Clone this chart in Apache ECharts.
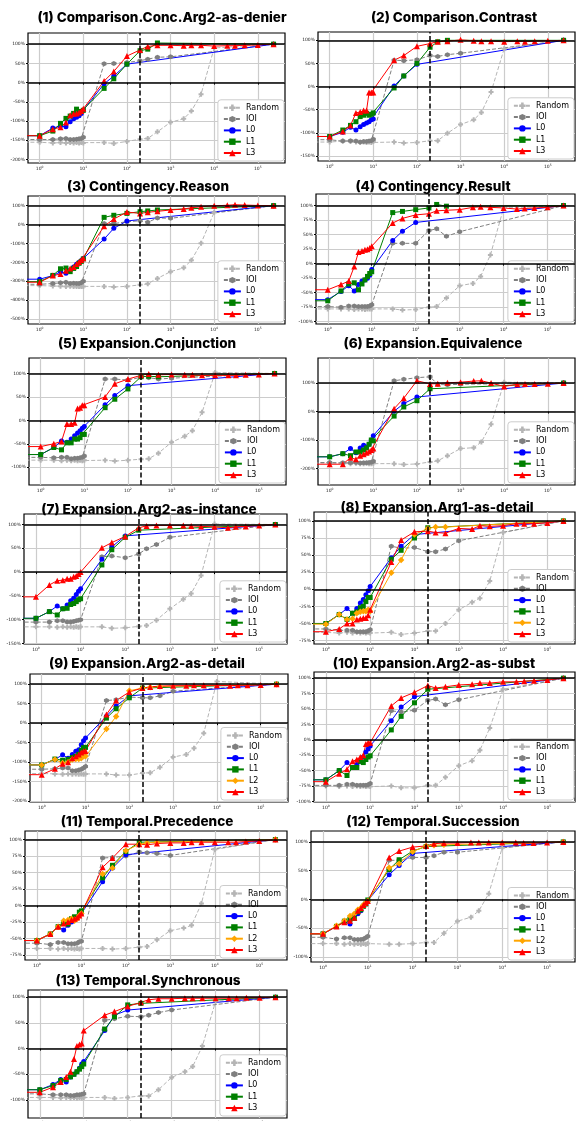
<!DOCTYPE html>
<html><head><meta charset="utf-8">
<script src="https://cdn.jsdelivr.net/npm/echarts@6/dist/echarts.min.js"></script>
<style>html,body{margin:0;padding:0;background:#fff}#c{width:576px;height:1121px}</style>
</head><body><div id="c"></div>
<script>
const _ = null;
// x positions (steps). The first entry stands for step 0, which matplotlib's log axis pushes to the left edge.
const X_VALUES = [0.01, 1,2,3,4,5,6,7,8,9,10, 30,50,100, 200,300,500, 1000,2000,3000,5000, 10000,20000,30000,50000,100000, 230000];
const X_TICKS = [1, 10, 100, 1000, 10000, 100000];
const TITLES = ['(1) Comparison.Conc.Arg2-as-denier','(2) Comparison.Contrast','(3) Contingency.Reason','(4) Contingency.Result','(5) Expansion.Conjunction','(6) Expansion.Equivalence','(7) Expansion.Arg2-as-instance','(8) Expansion.Arg1-as-detail','(9) Expansion.Arg2-as-detail','(10) Expansion.Arg2-as-subst','(11) Temporal.Precedence','(12) Temporal.Succession','(13) Temporal.Synchronous'];
const Y_TICKS = [
 [-200,-150,-100,-50,0,50,100],[-150,-100,-50,0,50,100],[-500,-400,-300,-200,-100,0,100],[-100,-75,-50,-25,0,25,50,75,100],
 [-100,-50,0,50,100],[-200,-100,0,100],[-150,-100,-50,0,50,100],[-75,-50,-25,0,25,50,75,100],
 [-200,-150,-100,-50,0,50,100],[-100,-75,-50,-25,0,25,50,75,100],[-75,-50,-25,0,25,50,75,100],[-100,-50,0,50,100],[-100,-50,0,50,100]];
const Y_MIN = [-209,-161,-526,-104,-138,-258,-151,-80,-202,-101,-82.5,-109,-135];
const Y_MAX = [129,118,151,120,133,188,122,113,126,110,113,119,114];

const P1_RANDOM = [-155, -155,-157,-156,-157,-156,-157,-156,-157,-156,-157, -156,-158,-153, -147,-145,-128, -103,-94,-74,-30, 90,_,_,_,_, 100];
const P1_IOI    = [-148, -148,-148,-146,-145,-148,-148,-147,-146,-145,-142, 49,50,52, 57,61,66, 67,_,_,_,_,_,_,_,_, 100];
const P1_L0     = [-138, -138,-118,-113,-115,-102,-94,-90,-86,-80,-72, -3,17,48, _,_,_,_,_,_,_,_,_,_,_,_, 100];
const P1_L1     = [-138, -138,-126,-106,-93,-87,-80,-69,-78,-75,-72, -15,10,48, 83,87,103, _,_,_,_,_,_,_,_,_, 100];
const P1_L3     = [-138, -138,-121,-116,-104,-85,-81,-80,-78,-74,-68, 4,29,69, 85,94,97, 97,96,97,97, 95,96,96,97,98, 100];

const P2_RANDOM = [-120, -120,-118,-119,-120,-121,-120,-121,-120,-121,-119, -120,-122,-121, -117,-117,-101, -82,-72,-56,-12, 82,_,_,_,_, 100];
const P2_IOI    = [-115, -115,-118,-117,-118,-120,-119,-119,-118,-117,-114, 57,56,58, 67,65,69, 72,_,_,_,_,_,_,_,_, 100];
const P2_L0     = [-108, -108,-99,-88,-94,-87,-82,-79,-76,-72,-70, 1,23,48, _,_,_,_,_,_,_,_,_,_,_,_, 100];
const P2_L1     = [-108, -108,-94,-84,-76,-65,-62,-58,-62,-60,-57, -3,23,50, 85,97,100, _,_,_,_,_,_,_,_,_, 100];
const P2_L3     = [-108, -108,-97,-84,-57,-55,-52,-52,-13,-13,-13, 57,67,87, 93,97,98, 101,99,98,98, 97,98,97,98,99, 100];

const P3_RANDOM = [-323, -323,-325,-326,-327,-326,-328,-327,-328,-327,-328, -327,-330,-327, -319,-313,-285, -249,-229,-189,-99, 65,_,_,_,_, 100];
const P3_IOI    = [-316, -316,-312,-308,-305,-312,-310,-312,-312,-308,-300, 6,5,15, 20,12,35, 33,_,_,_,_,_,_,_,_, 100];
const P3_L0     = [-289, -289,-270,-250,-258,-240,-225,-210,-200,-190,-179, -77,-20,19, _,_,_,_,_,_,_,_,_,_,_,_, 100];
const P3_L1     = [-302, -302,-269,-234,-230,-249,-232,-222,-205,-195,-182, 38,49,59, 68,72,77, _,_,_,_,_,_,_,_,_, 100];
const P3_L3     = [-305, -305,-270,-262,-245,-233,-225,-208,-198,-188,-178, -9,29,66, 59,65,70, 77,82,89,94, 99,102,105,103,101, 100];

const P4_RANDOM = [-78, -78,-78,-78,-79,-78,-78,-79,-78,-78,-78, -78,-80,-79, -75,-74,-59, -38,-34,-22,15, 96,_,_,_,_, 100];
const P4_IOI    = [-74, -74,-75,-73,-73,-74,-74,-74,-74,-73,-71, 35,35,35, 57,60,47, 55,_,_,_,_,_,_,_,_, 100];
const P4_L0     = [-62, -62,-48,-38,-47,-36,-30,-28,-25,-20,-10, 40,56,71, _,_,_,_,_,_,_,_,_,_,_,_, 100];
const P4_L1     = [-64, -64,-47,-35,-33,-45,-35,-28,-22,-17,-14, 88,90,93, 96,102,99, _,_,_,_,_,_,_,_,_, 100];
const P4_L3     = [-45, -45,-36,-30,-5,20,22,24,25,27,30, 70,78,84, 86,91,92, 93,97,98,97, 96,94,95,96,97, 100];

const P5_RANDOM = [-85, -85,-85,-86,-85,-86,-85,-86,-85,-86,-85, -85,-87,-85, -83,-82,-70, -47,-34,-22,17, 102,_,_,_,_, 100];
const P5_IOI    = [-79, -79,-80,-79,-79,-82,-81,-81,-80,-79,-76, 88,88,86, 92,91,88, 90,_,_,_,_,_,_,_,_, 100];
const P5_L0     = [-73, -73,-58,-44,-47,-40,-33,-27,-22,-17,-13, 33,53,74, _,_,_,_,_,_,_,_,_,_,_,_, 100];
const P5_L1     = [-73, -73,-58,-63,-48,-48,-40,-40,-37,-30,-30, 27,45,67, 93,94,93, _,_,_,_,_,_,_,_,_, 100];
const P5_L3     = [-56, -56,-50,-45,-8,-8,-5,25,27,32,32, 50,78,88, 96,99,97, 98,97,97,96, 96,96,96,97,98, 100];

const P6_RANDOM = [-181, -181,-183,-183,-182,-183,-183,-182,-183,-183,-182, -183,-186,-184, -177,-173,-155, -130,-127,-107,-45, 103,_,_,_,_, 100];
const P6_IOI    = [-179, -179,-180,-180,-179,-181,-180,-180,-179,-178,-175, 108,113,119, 122,95,94, 96,_,_,_,_,_,_,_,_, 100];
const P6_L0     = [-159, -159,-148,-130,-145,-128,-118,-125,-115,-100,-85, 1,28,51, _,_,_,_,_,_,_,_,_,_,_,_, 100];
const P6_L1     = [-159, -159,-148,-155,-142,-142,-135,-128,-115,-100,-103, -16,16,38, 80,_,_,_,_,_,_,_,_,_,_,_, 100];
const P6_L3     = [-185, -185,-185,-162,-168,-155,-150,-145,-140,-135,-130, 10,47,108, 97,98,101, 103,107,108,100, 88,96,97,97,98, 100];

const P7_RANDOM = [-115, -115,-115,-116,-115,-116,-115,-116,-115,-116,-115, -115,-118,-117, -114,-112,-101, -77,-57,-45,-7, 101,_,_,_,_, 100];
const P7_IOI    = [-105, -105,-105,-102,-102,-105,-105,-104,-102,-101,-100, 32,34,30, 38,49,58, 73,_,_,_,_,_,_,_,_, 100];
const P7_L0     = [-97, -97,-83,-71,-77,-69,-60,-55,-47,-40,-35, 27,53,76, _,_,_,_,_,_,_,_,_,_,_,_, 100];
const P7_L1     = [-97, -97,-83,-90,-77,-76,-68,-66,-62,-58,-56, 15,47,73, 88,_,_,_,_,_,_,_,_,_,_,_, 100];
const P7_L3     = [-52, -52,-27,-18,-17,-14,-14,-10,-8,-4,0, 51,62,75, 93,97,98, 98,98,97,96, 95,93,95,96,98, 100];

const P8_RANDOM = [-63, -63,-64,-63,-64,-63,-64,-63,-64,-63,-64, -63,-66,-64, -61,-61,-50, -30,-19,-13,12, 83,_,_,_,_, 100];
const P8_IOI    = [-58, -58,-60,-60,-60,-62,-62,-62,-62,-61,-59, 63,60,61, 55,55,59, 71,_,_,_,_,_,_,_,_, 100];
const P8_L0     = [-50, -50,-37,-28,-35,-28,-20,-15,-8,-2,4, 46,63,80, _,_,_,_,_,_,_,_,_,_,_,_, 100];
const P8_L1     = [-50, -50,-37,-44,-35,-33,-27,-25,-18,-12,-12, 44,57,75, 90,_,_,_,_,_,_,_,_,_,_,_, 100];
const P8_L2     = [-51, -51,-37,-44,-43,-35,-33,-32,-32,-30,-32, 24,43,80, 89,91,91, _,_,_,_,_,_,_,_,_, 100];
const P8_L3     = [-62, -62,-58,-50,-50,-44,-43,-42,-42,-38,-30, 40,72,84, 85,83,82, 89,88,93,92, 93,96,96,96,97, 100];

const P9_RANDOM = [-129, -129,-130,-131,-130,-131,-130,-131,-130,-131,-130, -130,-133,-133, -128,-127,-113, -87,-80,-64,-26, 107,_,_,_,_, 100];
const P9_IOI    = [-118, -118,-117,-115,-115,-122,-122,-120,-118,-115,-111, 58,60,67, 65,65,70, 82,_,_,_,_,_,_,_,_, 100];
const P9_L0     = [-107, -107,-93,-81,-90,-80,-72,-68,-55,-45,-38, 18,44,70, _,_,_,_,_,_,_,_,_,_,_,_, 100];
const P9_L1     = [-107, -107,-92,-95,-93,-88,-85,-80,-70,-63,-62, 13,37,65, 90,_,_,_,_,_,_,_,_,_,_,_, 100];
const P9_L2     = [-107, -107,-93,-102,-100,-93,-92,-92,-90,-85,-85, -15,17,83, 90,92,94, _,_,_,_,_,_,_,_,_, 100];
const P9_L3     = [-132, -132,-117,-104,-100,-90,-85,-80,-75,-72,-71, 22,58,80, 90,93,95, 96,96,97,97, 97,96,97,97,98, 100];

const P10_RANDOM = [-75, -75,-76,-75,-76,-75,-76,-75,-76,-75,-76, -75,-78,-78, -74,-74,-61, -42,-34,-17,19, 82,_,_,_,_, 100];
const P10_IOI    = [-74, -74,-74,-72,-72,-74,-74,-74,-74,-73,-71, 47,45,48, 64,66,57, 65,_,_,_,_,_,_,_,_, 100];
const P10_L0     = [-65, -65,-50,-37,-45,-40,-35,-28,-20,-15,-10, 31,53,70, _,_,_,_,_,_,_,_,_,_,_,_, 100];
const P10_L1     = [-65, -65,-50,-58,-45,-45,-35,-37,-32,-28,-26, 16,38,60, 82,_,_,_,_,_,_,_,_,_,_,_, 100];
const P10_L3     = [-68, -68,-55,-48,-35,-32,-28,-25,-7,-5,-5, 55,68,77, 88,84,86, 89,90,92,92, 94,94,95,96,97, 100];

const P11_RANDOM = [-65, -65,-65,-66,-65,-66,-65,-66,-65,-66,-65, -65,-66,-65, -63,-62,-52, -38,-34,-30,3, 85,_,_,_,_, 100];
const P11_IOI    = [-57, -57,-59,-56,-56,-58,-58,-58,-57,-55,-54, 72,73,75, 81,80,79, 76,_,_,_,_,_,_,_,_, 100];
const P11_L0     = [-53, -53,-43,-32,-37,-30,-25,-20,-18,-14,-12, 36,57,77, _,_,_,_,_,_,_,_,_,_,_,_, 100];
const P11_L1     = [-53, -53,-43,-32,-27,-28,-20,-17,-18,-10,-8, 42,61,82, 96,_,_,_,_,_,_,_,_,_,_,_, 100];
const P11_L2     = [-53, -53,-43,-32,-23,-22,-20,-23,-20,-15,-12, 48,57,83, 93,95,96, _,_,_,_,_,_,_,_,_, 100];
const P11_L3     = [-53, -53,-43,-32,-27,-25,-22,-20,-18,-15,-12, 58,72,93, 93,92,94, 95,95,96,96, 96,96,96,97,98, 100];

const P12_RANDOM = [-77, -77,-77,-78,-77,-78,-77,-78,-77,-78,-77, -78,-78,-77, -75,-75,-59, -38,-31,-20,10, 90,_,_,_,_, 100];
const P12_IOI    = [-66, -66,-69,-67,-67,-70,-70,-70,-69,-67,-64, 68,68,73, 73,76,82, 82,_,_,_,_,_,_,_,_, 100];
const P12_L0     = [-60, -60,-47,-38,-43,-28,-25,-20,-12,-8,-2, 43,59,80, _,_,_,_,_,_,_,_,_,_,_,_, 100];
const P12_L1     = [-60, -60,-47,-38,-35,-33,-22,-18,-12,-8,-1, 52,69,84, 92,_,_,_,_,_,_,_,_,_,_,_, 100];
const P12_L2     = [-60, -60,-46,-37,-29,-25,-18,-15,-10,-6,-3, 55,62,83, 93,94,95, _,_,_,_,_,_,_,_,_, 100];
const P12_L3     = [-60, -60,-47,-40,-37,-32,-20,-15,-10,-6,-3, 73,84,91, 93,97,98, 98,99,99,99, 99,99,98,98,99, 100];

const P13_RANDOM = [-95, -95,-95,-96,-95,-96,-95,-96,-95,-96,-95, -95,-97,-95, -92,-92,-80, -56,-45,-35,5, 92,_,_,_,_, 100];
const P13_IOI    = [-88, -88,-90,-90,-90,-91,-91,-90,-90,-89,-88, 55,58,63, 62,65,70, 75,_,_,_,_,_,_,_,_, 100];
const P13_L0     = [-80, -80,-70,-60,-65,-55,-50,-45,-38,-30,-25, 35,65,75, _,_,_,_,_,_,_,_,_,_,_,_, 100];
const P13_L1     = [-80, -80,-72,-62,-60,-55,-50,-45,-40,-35,-30, 38,62,85, 88,_,_,_,_,_,_,_,_,_,_,_, 100];
const P13_L3     = [-85, -85,-75,-65,-55,-45,-20,5,8,10,35, 65,72,82, 90,95,97, 97,98,98,98, 98,98,98,99,99, 100];

const PANEL_SERIES = [
 {Random:P1_RANDOM, IOI:P1_IOI, L0:P1_L0, L1:P1_L1, L3:P1_L3},
 {Random:P2_RANDOM, IOI:P2_IOI, L0:P2_L0, L1:P2_L1, L3:P2_L3},
 {Random:P3_RANDOM, IOI:P3_IOI, L0:P3_L0, L1:P3_L1, L3:P3_L3},
 {Random:P4_RANDOM, IOI:P4_IOI, L0:P4_L0, L1:P4_L1, L3:P4_L3},
 {Random:P5_RANDOM, IOI:P5_IOI, L0:P5_L0, L1:P5_L1, L3:P5_L3},
 {Random:P6_RANDOM, IOI:P6_IOI, L0:P6_L0, L1:P6_L1, L3:P6_L3},
 {Random:P7_RANDOM, IOI:P7_IOI, L0:P7_L0, L1:P7_L1, L3:P7_L3},
 {Random:P8_RANDOM, IOI:P8_IOI, L0:P8_L0, L1:P8_L1, L2:P8_L2, L3:P8_L3},
 {Random:P9_RANDOM, IOI:P9_IOI, L0:P9_L0, L1:P9_L1, L2:P9_L2, L3:P9_L3},
 {Random:P10_RANDOM, IOI:P10_IOI, L0:P10_L0, L1:P10_L1, L3:P10_L3},
 {Random:P11_RANDOM, IOI:P11_IOI, L0:P11_L0, L1:P11_L1, L2:P11_L2, L3:P11_L3},
 {Random:P12_RANDOM, IOI:P12_IOI, L0:P12_L0, L1:P12_L1, L2:P12_L2, L3:P12_L3},
 {Random:P13_RANDOM, IOI:P13_IOI, L0:P13_L0, L1:P13_L1, L3:P13_L3}
];

// ---- layout & style (not data) ----
const GRID_BOX = [ // left, top, right, bottom
 [28,33,285,163],[318,32,575,161],[28,196,285,324],[316,194,575,324],
 [29,358,286,485],[318,358,575,485],[24,514,287,644],[314,512,575,644],
 [30,674,288,802],[314,672,575,802],[25,831,287,960],[311,831,575,962],
 [28,990,287,1118]];
const TITLE_POS = [[162,18],[454,18],[148,187],[433,187],[147,344],[433,344],[149,510],[437,507.5],[147,663.5],[434,663.5],[147,822],[433,822],[148,981]];

const PLUS = 'path://M3,0H7V3H10V7H7V10H3V7H0V3H3Z';
const HEX = 'path://M5,0L9.33,2.5L9.33,7.5L5,10L0.67,7.5L0.67,2.5Z';
const STYLE = {
  Random:{color:'#b5b5b5', symbol:PLUS, size:5, dash:[4,2]},
  IOI:{color:'#7f7f7f', symbol:HEX, size:5, dash:[4,2]},
  L0:{color:'#0000ff', symbol:'circle', size:5},
  L1:{color:'#008000', symbol:'rect', size:5},
  L2:{color:'#ffa500', symbol:'diamond', size:6.5},
  L3:{color:'#ff0000', symbol:'triangle', size:6}
};
const ORDER = ['Random','IOI','L0','L1','L2','L3'];

const grids=[], xAxes=[], yAxes=[], series=[], legends=[], graphics=[];
GRID_BOX.forEach((b,p)=>{
  grids.push({left:b[0], top:b[1], width:b[2]-b[0], height:b[3]-b[1], show:true, borderColor:'#000', borderWidth:1.2,
    backgroundColor:'transparent', containLabel:false, outerBoundsMode:'none'});
  xAxes.push({type:'log', logBase:10, gridIndex:p, min:0.54, max:420000,
    axisLine:{show:false}, axisTick:{show:true, length:2, lineStyle:{color:'#000'}},
    splitLine:{show:true, showMinLine:false, showMaxLine:false, lineStyle:{color:'#cccccc', width:1.2}},
    axisLabel:{showMinLabel:false, showMaxLabel:false, fontSize:4.5, color:'#222', margin:3, fontFamily:'DejaVu Sans',
      formatter:v=>{const l=Math.log10(v), e=Math.round(l); return Math.abs(l-e)>1e-6?'':'10{s|'+e+'}';},
      rich:{s:{fontSize:3, verticalAlign:'top', fontFamily:'DejaVu Sans', color:'#222'}}}});
  yAxes.push({type:'value', gridIndex:p, min:Y_MIN[p], max:Y_MAX[p],
    axisLine:{show:false},
    axisTick:{show:true, length:2, customValues:Y_TICKS[p], lineStyle:{color:'#000'}},
    splitLine:{show:true, lineStyle:{color:'#cccccc', width:1.2}},
    axisLabel:{customValues:Y_TICKS[p], formatter:v=>v+'%', fontSize:4.5, color:'#222', margin:3, fontFamily:'DejaVu Sans'}});
  const names = ORDER.filter(n=>PANEL_SERIES[p][n]);
  names.forEach(n=>{
    const st = STYLE[n], vals = PANEL_SERIES[p][n];
    const data = [];
    vals.forEach((v,i)=>{ if(v!==null) data.push([X_VALUES[i], v]); });
    const s = {type:'line', name:n, xAxisIndex:p, yAxisIndex:p, data, symbol:st.symbol, symbolSize:st.size,
      showAllSymbol:true, clip:true, animation:false, emphasis:{disabled:true},
      lineStyle:{color:st.color, width:1, type:st.dash||'solid'}, itemStyle:{color:st.color, borderWidth:0}};
    if(n==='Random'){
      s.markLine = {silent:true, symbol:['none','none'], label:{show:false}, animation:false, emphasis:{disabled:true},
        lineStyle:{color:'#000', width:1.5, type:'solid'},
        data:[{yAxis:0},{yAxis:100},{xAxis:200, lineStyle:{color:'#000', width:1.5, type:[5,2.5]}}]};
    }
    series.push(s);
  });
  legends.push({orient:'vertical', right:576-b[2]+1, bottom:1121-b[3]+2, data:names, selectedMode:false,
    itemWidth:17, itemHeight:8, itemGap:3.3, padding:[4,5], backgroundColor:'#fff', borderColor:'#cccccc', borderWidth:1, borderRadius:3,
    textStyle:{fontSize:8, fontFamily:'DejaVu Sans', color:'#000'}});
  graphics.push({type:'text', x:TITLE_POS[p][0], y:TITLE_POS[p][1], z:10,
    style:{text:TITLES[p], align:'center', verticalAlign:'middle', fontSize:13.5, fontWeight:800, fontFamily:'Inter', fill:'#000'}});
});

const chart = echarts.init(document.getElementById('c'), null, {renderer:'canvas', width:576, height:1121});
chart.setOption({backgroundColor:'#fff', animation:false, grid:grids, xAxis:xAxes, yAxis:yAxes, series, legend:legends, graphic:graphics});
</script></body></html>
